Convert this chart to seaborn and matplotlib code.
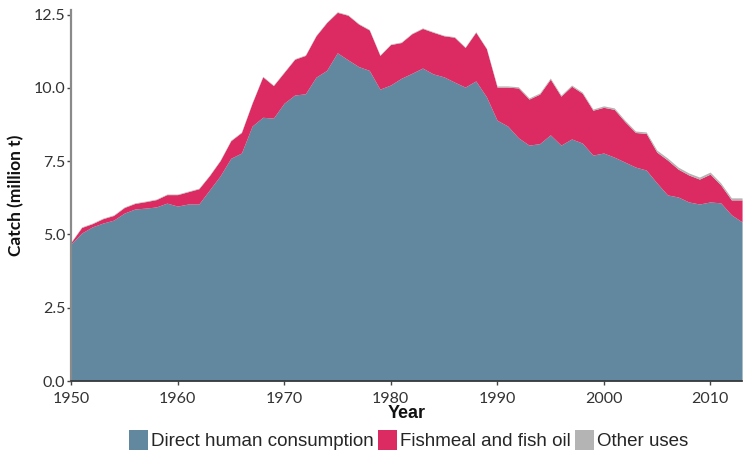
import matplotlib
matplotlib.use("Agg")
import matplotlib.pyplot as plt
import seaborn as sns

years = list(range(1950, 2014))

direct_human = [
    4.68, 5.05, 5.26, 5.39, 5.49, 5.73, 5.87, 5.90, 5.94, 6.07,
    5.97, 6.04, 6.04, 6.52, 7.00, 7.60, 7.78, 8.70, 9.00, 8.97,
    9.48, 9.76, 9.80, 10.37, 10.60, 11.20, 10.96, 10.73, 10.60, 9.96,
    10.10, 10.33, 10.50, 10.68, 10.48, 10.38, 10.20, 10.03, 10.24, 9.70,
    8.90, 8.70, 8.30, 8.05, 8.10, 8.40, 8.05, 8.26, 8.12, 7.71,
    7.78, 7.64, 7.47, 7.30, 7.20, 6.76, 6.35, 6.28, 6.11, 6.04,
    6.11, 6.08, 5.67, 5.43,
]

fishmeal_oil = [
    0.05, 0.19, 0.11, 0.15, 0.16, 0.19, 0.19, 0.22, 0.25, 0.29,
    0.39, 0.42, 0.52, 0.49, 0.52, 0.60, 0.70, 0.78, 1.38, 1.11,
    1.05, 1.22, 1.31, 1.41, 1.63, 1.38, 1.52, 1.45, 1.38, 1.15,
    1.38, 1.22, 1.35, 1.35, 1.42, 1.40, 1.53, 1.35, 1.66, 1.64,
    1.13, 1.33, 1.70, 1.57, 1.69, 1.90, 1.67, 1.80, 1.70, 1.53,
    1.56, 1.63, 1.38, 1.18, 1.25, 1.05, 1.19, 0.95, 0.92, 0.85,
    0.95, 0.61, 0.51, 0.75,
]

other_uses = [
    0.02, 0.02, 0.02, 0.02, 0.02, 0.02, 0.02, 0.02, 0.02, 0.02,
    0.02, 0.02, 0.02, 0.02, 0.02, 0.02, 0.02, 0.02, 0.02, 0.02,
    0.02, 0.02, 0.02, 0.02, 0.02, 0.02, 0.02, 0.02, 0.02, 0.02,
    0.02, 0.02, 0.02, 0.02, 0.02, 0.02, 0.02, 0.02, 0.02, 0.02,
    0.04, 0.04, 0.04, 0.04, 0.04, 0.04, 0.04, 0.04, 0.04, 0.04,
    0.05, 0.05, 0.05, 0.05, 0.05, 0.07, 0.07, 0.07, 0.07, 0.07,
    0.07, 0.07, 0.07, 0.07,
]

series_labels = ["Direct human consumption", "Fishmeal and fish oil", "Other uses"]
series_colors = ["#62889f", "#dc2a62", "#b4b4b4"]
y_ticks = [0.0, 2.5, 5.0, 7.5, 10.0, 12.5]
x_ticks = [1950, 1960, 1970, 1980, 1990, 2000, 2010]

sns.set_theme(style="white")
plt.rcParams["font.family"] = ["Lato", "DejaVu Sans"]

fig = plt.figure(figsize=(7.46, 4.55), dpi=100)
ax = fig.add_axes([0.0952, 0.1626, 0.8995, 0.8154])

ax.stackplot(years, direct_human, fishmeal_oil, other_uses,
             labels=series_labels, colors=series_colors, linewidth=0)

ax.set_xlim(1950, 2013)
ax.set_ylim(0, 12.66)
ax.set_yticks(y_ticks)
ax.set_yticklabels([f"{v:.1f}" for v in y_ticks])
ax.set_xticks(x_ticks)

sns.despine(ax=ax)
ax.spines["left"].set_color("#8a8a8a")
ax.spines["left"].set_linewidth(1.6)
ax.spines["bottom"].set_color("#333333")
ax.spines["bottom"].set_linewidth(1.2)
ax.tick_params(axis="both", which="both", length=3, width=1, colors="#444444",
               labelsize=11.5, left=True, bottom=True, labelcolor="#333333")
ax.tick_params(axis="x", pad=5)
ax.tick_params(axis="y", pad=1)

ax.set_ylabel("Catch (million t)", fontsize=12.5, fontweight="bold", color="#111111",
              labelpad=7)
ax.set_xlabel("Year", fontsize=13, fontweight="bold", color="#111111",
              family=["Liberation Sans", "DejaVu Sans"], labelpad=-1)

handles, labels = ax.get_legend_handles_labels()
fig.legend(handles, labels, loc="center", bbox_to_anchor=(0.548, 0.033), ncol=3,
           frameon=False, handlelength=1.0, handleheight=1.3, handletextpad=0.15,
           columnspacing=0.25,
           prop={"family": ["Liberation Sans", "DejaVu Sans"], "size": 13.5})

fig.savefig("out.png", dpi=100)
